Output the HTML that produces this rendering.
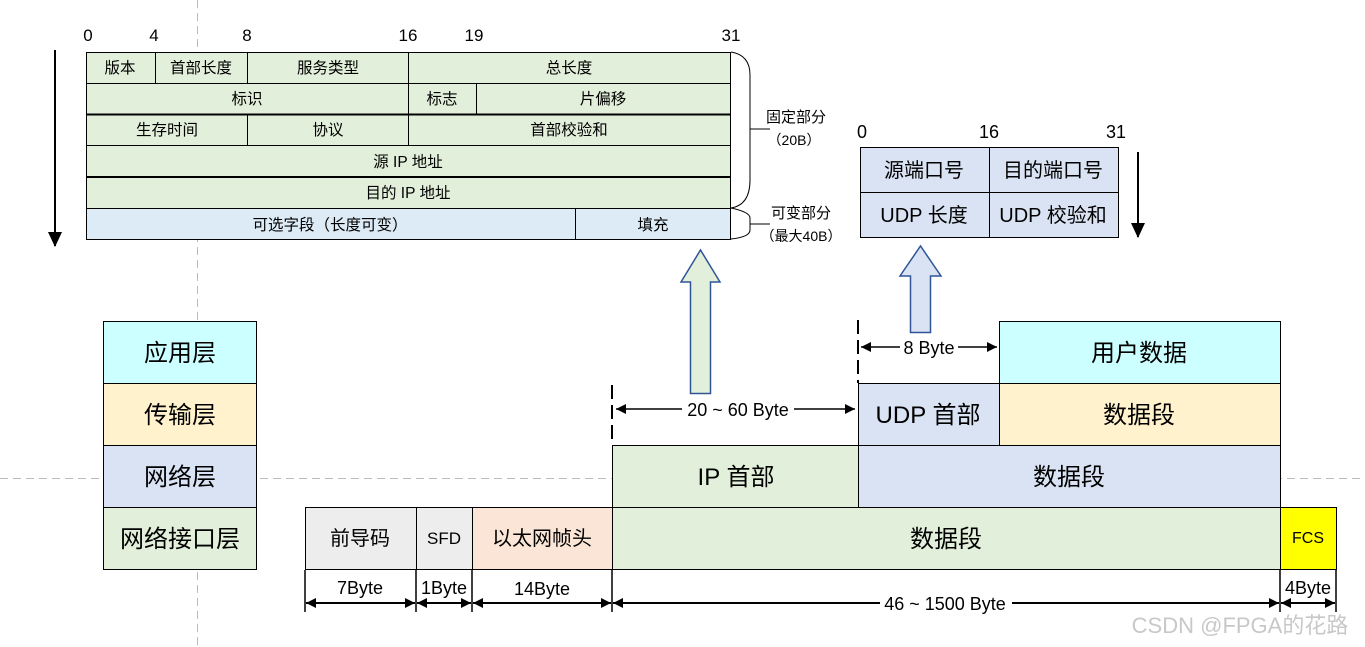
<!DOCTYPE html>
<html><head><meta charset="utf-8"><style>
html,body{margin:0;padding:0;background:#fff;}
svg{display:block;}
text{font-family:"Liberation Sans","Noto Sans CJK SC",sans-serif;fill:#000;}
</style></head><body>
<svg width="1365" height="647" viewBox="0 0 1365 647" xmlns="http://www.w3.org/2000/svg">
<defs>
<marker id="ah" markerWidth="12" markerHeight="12" refX="10" refY="6" orient="auto-start-reverse" markerUnits="userSpaceOnUse">
<path d="M0,1 L10,6 L0,11 Z" fill="#000"/></marker>
<marker id="ah2" markerWidth="16" markerHeight="16" refX="14" refY="8" orient="auto" markerUnits="userSpaceOnUse">
<path d="M0,1 L15,8 L0,15 Z" fill="#000"/></marker>
</defs>
<line x1="197.5" y1="0" x2="197.5" y2="647" stroke="#bbb" stroke-dasharray="8,5"/>
<line x1="0" y1="478.5" x2="1365" y2="478.5" stroke="#bbb" stroke-dasharray="8,5"/>

<g font-size="17" text-anchor="middle">
<text x="88" y="41">0</text><text x="154" y="41">4</text><text x="247" y="41">8</text>
<text x="408" y="41">16</text><text x="474" y="41">19</text><text x="731" y="41">31</text>
</g>
<rect x="86.5" y="52.5" width="644" height="156" fill="#e2efda" stroke="#000"/>
<rect x="86.5" y="208.5" width="644" height="31" fill="#ddebf7" stroke="#000"/>
<g stroke="#000" stroke-width="1">
<line x1="86" y1="83.5" x2="731" y2="83.5"/>
<line x1="86" y1="145.5" x2="731" y2="145.5"/>
<line x1="86" y1="114.5" x2="731" y2="114.5" stroke-width="2"/>
<line x1="86" y1="177" x2="731" y2="177" stroke-width="2"/>
<line x1="155.5" y1="52" x2="155.5" y2="83"/>
<line x1="247.5" y1="52" x2="247.5" y2="83"/>
<line x1="408.5" y1="52" x2="408.5" y2="145"/>
<line x1="476.5" y1="83" x2="476.5" y2="114"/>
<line x1="247.5" y1="115" x2="247.5" y2="145"/>
<line x1="575.5" y1="208" x2="575.5" y2="239"/>
</g>
<g font-size="15.5" text-anchor="middle">
<text x="120" y="73">版本</text><text x="201" y="73">首部长度</text><text x="328" y="73">服务类型</text><text x="569" y="73">总长度</text>
<text x="247" y="104">标识</text><text x="442" y="104">标志</text><text x="603" y="104">片偏移</text>
<text x="167" y="135">生存时间</text><text x="328" y="135">协议</text><text x="569" y="135">首部校验和</text>
<text x="408" y="167">源 IP 地址</text>
<text x="408" y="198">目的 IP 地址</text>
<text x="330" y="230">可选字段（长度可变）</text><text x="653" y="230">填充</text>
</g>
<path d="M731,52 Q750,55 750,75 L750,180 Q750,205 731,208" fill="none" stroke="#000"/>
<line x1="750" y1="129" x2="770" y2="129" stroke="#000"/>
<path d="M731,208 Q750,212 750,218 L750,230 Q750,237 731,239" fill="none" stroke="#000"/>
<line x1="750" y1="224" x2="770" y2="224" stroke="#000"/>
<g font-size="15" text-anchor="middle">
<text x="796" y="122">固定部分</text><text x="794" y="145" font-size="14">（20B）</text>
<text x="801" y="218">可变部分</text><text x="801" y="241" font-size="14">（最大40B）</text>
</g>
<line x1="55" y1="50" x2="55" y2="246" stroke="#000" stroke-width="2" marker-end="url(#ah2)"/>

<g font-size="18" text-anchor="middle">
<text x="862" y="138">0</text><text x="989" y="138">16</text><text x="1116" y="138">31</text>
</g>
<rect x="860.5" y="147.5" width="258" height="90" fill="#dae3f3" stroke="#000"/>
<line x1="989.5" y1="147" x2="989.5" y2="238" stroke="#000"/>
<line x1="860" y1="192.5" x2="1118" y2="192.5" stroke="#000"/>
<g font-size="20" text-anchor="middle">
<text x="924" y="177">源端口号</text><text x="1053" y="177">目的端口号</text>
<text x="924" y="222">UDP 长度</text><text x="1053" y="222">UDP 校验和</text>
</g>
<line x1="1138" y1="152" x2="1138" y2="237" stroke="#000" stroke-width="2" marker-end="url(#ah2)"/>

<path d="M690.5,393.5 L690.5,282 L681,282 L700.5,250 L720,282 L710.5,282 L710.5,393.5 Z" fill="#e2efda" stroke="#2f5597" stroke-width="1.5"/>
<path d="M910.5,332.5 L910.5,276 L900,276 L920.5,246 L941,276 L930.5,276 L930.5,332.5 Z" fill="#dae3f3" stroke="#2f5597" stroke-width="1.5"/>

<g stroke="#000">
<rect x="103.5" y="321.5" width="153" height="62" fill="#ccffff"/>
<rect x="103.5" y="383.5" width="153" height="62" fill="#fff2cc"/>
<rect x="103.5" y="445.5" width="153" height="62" fill="#dae3f3"/>
<rect x="103.5" y="507.5" width="153" height="62" fill="#e2efda"/>
</g>
<g font-size="24" text-anchor="middle">
<text x="180" y="361">应用层</text><text x="180" y="423">传输层</text>
<text x="180" y="485">网络层</text><text x="180" y="547">网络接口层</text>
</g>

<g stroke="#000">
<rect x="999.5" y="321.5" width="281" height="62" fill="#ccffff"/>
<rect x="858.5" y="383.5" width="141" height="62" fill="#dae3f3"/>
<rect x="999.5" y="383.5" width="281" height="62" fill="#fff2cc"/>
<rect x="612.5" y="445.5" width="246" height="62" fill="#e2efda"/>
<rect x="858.5" y="445.5" width="422" height="62" fill="#dae3f3"/>
<rect x="305.5" y="507.5" width="111" height="62" fill="#ededed"/>
<rect x="416.5" y="507.5" width="56" height="62" fill="#ededed"/>
<rect x="472.5" y="507.5" width="140" height="62" fill="#fbe5d6"/>
<rect x="612.5" y="507.5" width="668" height="62" fill="#e2efda"/>
<rect x="1280.5" y="507.5" width="56" height="62" fill="#ffff00"/>
</g>
<g font-size="24" text-anchor="middle">
<text x="1139" y="361">用户数据</text>
<text x="928" y="423">UDP 首部</text><text x="1139" y="423">数据段</text>
<text x="736" y="485">IP 首部</text><text x="1069" y="485">数据段</text>
<text x="946" y="547">数据段</text>
</g>
<g font-size="20" text-anchor="middle">
<text x="360" y="545">前导码</text><text x="444" y="544" font-size="17">SFD</text>
<text x="542" y="545">以太网帧头</text><text x="1308" y="543" font-size="16">FCS</text>
</g>

<line x1="612" y1="385" x2="612" y2="445" stroke="#000" stroke-width="2" stroke-dasharray="14,6"/>
<line x1="858" y1="320" x2="858" y2="383" stroke="#000" stroke-width="2" stroke-dasharray="14,6"/>
<line x1="616" y1="409" x2="855" y2="409" stroke="#000" stroke-width="1.5" marker-start="url(#ah)" marker-end="url(#ah)"/>
<rect x="682" y="398" width="112" height="20" fill="#fff"/>
<text x="738" y="416" font-size="18" text-anchor="middle">20 ~ 60 Byte</text>
<line x1="861" y1="347" x2="997" y2="347" stroke="#000" stroke-width="1.5" marker-start="url(#ah)" marker-end="url(#ah)"/>
<rect x="900" y="337" width="58" height="20" fill="#fff"/>
<text x="929" y="354" font-size="18" text-anchor="middle">8 Byte</text>

<g stroke="#000" stroke-width="1.5">
<line x1="305" y1="570" x2="305" y2="612"/>
<line x1="416" y1="570" x2="416" y2="612"/>
<line x1="472" y1="570" x2="472" y2="612"/>
<line x1="612" y1="570" x2="612" y2="612"/>
<line x1="1280" y1="570" x2="1280" y2="612"/>
<line x1="1336" y1="570" x2="1336" y2="612"/>
</g>
<g stroke="#000" stroke-width="2">
<line x1="306" y1="603" x2="415" y2="603" marker-start="url(#ah)" marker-end="url(#ah)"/>
<line x1="417" y1="603" x2="471" y2="603" marker-start="url(#ah)" marker-end="url(#ah)"/>
<line x1="473" y1="603" x2="611" y2="603" marker-start="url(#ah)" marker-end="url(#ah)"/>
<line x1="613" y1="603" x2="1279" y2="603" marker-start="url(#ah)" marker-end="url(#ah)"/>
<line x1="1281" y1="603" x2="1335" y2="603" marker-start="url(#ah)" marker-end="url(#ah)"/>
</g>
<rect x="880" y="594" width="132" height="18" fill="#fff"/>
<g font-size="18" text-anchor="middle">
<text x="360" y="594">7Byte</text><text x="444" y="594">1Byte</text><text x="542" y="595">14Byte</text>
<text x="945" y="610">46 ~ 1500 Byte</text><text x="1308" y="594">4Byte</text>
</g>
<text x="1240" y="633" font-size="22" text-anchor="middle" style="fill:#c8c8c8">CSDN @FPGA的花路</text>
</svg>
</body></html>
